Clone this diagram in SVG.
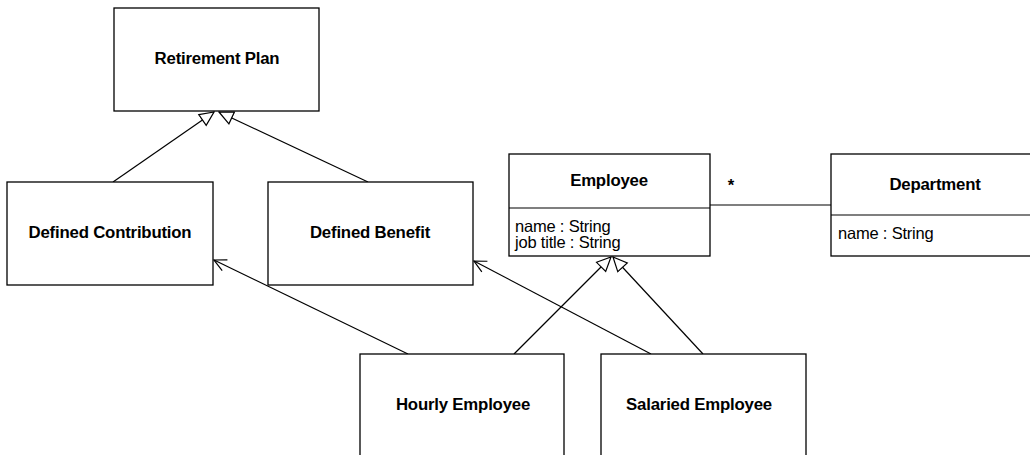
<svg xmlns="http://www.w3.org/2000/svg" width="1030" height="455" viewBox="0 0 1030 455">
<style>
.box{fill:#fff;stroke:#000;stroke-width:1.3}
.t{font-family:"Liberation Sans",Arial,sans-serif;font-weight:bold;font-size:16.8px;text-anchor:middle;fill:#000;letter-spacing:-0.2px}
.a{font-family:"Liberation Sans",Arial,sans-serif;font-size:16.5px;fill:#000;letter-spacing:-0.2px}
.ln{stroke:#000;stroke-width:1.2;fill:none}
</style>
<defs>
<marker id="tri" viewBox="0 0 16 16" refX="15" refY="8" markerWidth="16" markerHeight="16" markerUnits="userSpaceOnUse" orient="auto">
<path d="M1,1.5 L15,8 L1,14.5 Z" fill="#fff" stroke="#000" stroke-width="1.2"/>
</marker>
<marker id="open" viewBox="0 0 14 14" refX="13" refY="7" markerWidth="14" markerHeight="14" markerUnits="userSpaceOnUse" orient="auto">
<path d="M1,1 L13,7 L1,13" fill="none" stroke="#000" stroke-width="1.2"/>
</marker>
</defs>
<g id="connectors">
<line class="ln" x1="113" y1="182" x2="214" y2="112" marker-end="url(#tri)"/>
<line class="ln" x1="368" y1="182" x2="219" y2="112" marker-end="url(#tri)"/>
<line class="ln" x1="514" y1="354" x2="611" y2="257" marker-end="url(#tri)"/>
<line class="ln" x1="703" y1="354" x2="613" y2="257" marker-end="url(#tri)"/>
<line class="ln" x1="408" y1="354" x2="214" y2="260" marker-end="url(#open)"/>
<line class="ln" x1="651" y1="354" x2="474" y2="261" marker-end="url(#open)"/>
<line class="ln" x1="710" y1="205" x2="831" y2="205"/>
<text class="t" x="731" y="191">*</text>
</g>
<g id="retirement-plan">
<rect class="box" x="114" y="8" width="205" height="103"/>
<text class="t" x="217" y="64">Retirement Plan</text>
</g>
<g id="defined-contribution">
<rect class="box" x="7" y="182" width="206" height="103"/>
<text class="t" x="110" y="238">Defined Contribution</text>
</g>
<g id="defined-benefit">
<rect class="box" x="268" y="182" width="205" height="103"/>
<text class="t" x="370" y="238">Defined Benefit</text>
</g>
<g id="employee">
<rect class="box" x="509" y="154" width="201" height="102"/>
<line class="ln" x1="509" y1="208" x2="710" y2="208"/>
<text class="t" x="609" y="186">Employee</text>
<text class="a" x="515" y="232">name : String</text>
<text class="a" x="515" y="248">job title : String</text>
</g>
<g id="department">
<rect class="box" x="831" y="154" width="205" height="102"/>
<line class="ln" x1="831" y1="215" x2="1036" y2="215"/>
<text class="t" x="935" y="190">Department</text>
<text class="a" x="838" y="239">name : String</text>
</g>
<g id="hourly-employee">
<rect class="box" x="360" y="354" width="204" height="110"/>
<text class="t" x="463" y="410">Hourly Employee</text>
</g>
<g id="salaried-employee">
<rect class="box" x="601" y="354" width="205" height="110"/>
<text class="t" x="699" y="410">Salaried Employee</text>
</g>
</svg>
